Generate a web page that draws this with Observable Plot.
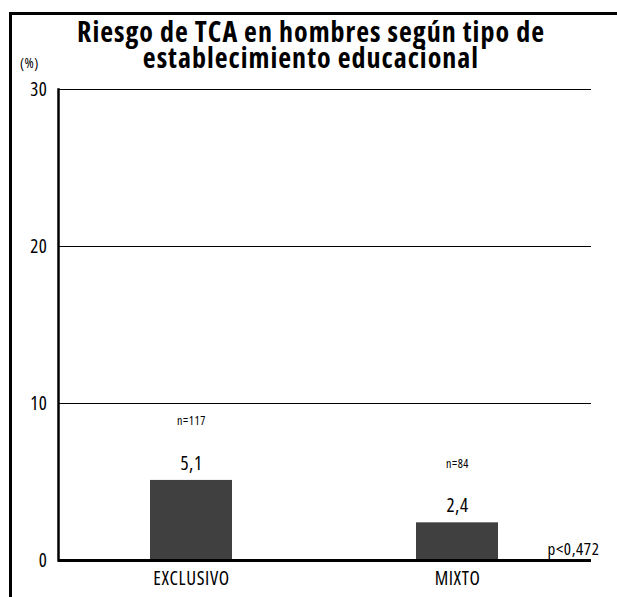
<!DOCTYPE html>
<html><head><meta charset="utf-8">
<script src="https://cdn.jsdelivr.net/npm/d3@7"></script>
<script src="https://cdn.jsdelivr.net/npm/@observablehq/plot@0.6"></script>
<style>
body{margin:0;background:#fff;}
#wrap{position:relative;width:617px;height:597px;overflow:hidden;font-family:"Open Sans",sans-serif;font-stretch:condensed;color:#000;}
#chart{position:absolute;left:0;top:70px;}
#chart svg, #chart svg text{font-stretch:condensed;}
#chart svg text{letter-spacing:0.6px;}
#frame{position:absolute;left:9px;top:12px;right:0;bottom:0;border-left:3px solid #000;border-top:3px solid #000;pointer-events:none;}
#title{position:absolute;left:12px;width:598px;top:18px;text-align:center;font-weight:bold;font-size:28px;line-height:26px;letter-spacing:1px;}
#unit{position:absolute;left:20px;top:56px;font-size:14px;line-height:14px;letter-spacing:0.5px;}
</style></head>
<body>
<div id="wrap">
  <div id="chart"></div>
  <div id="frame"></div>
  <div id="title">Riesgo de TCA en hombres según tipo de<br>establecimiento educacional</div>
  <div id="unit">(%)</div>
</div>
<script>
const categories = ["EXCLUSIVO", "MIXTO"];
const values = [5.1, 2.4];
const valueLabels = ["5,1", "2,4"];
const nLabels = ["n=117", "n=84"];
const yTicks = [0, 10, 20, 30];
const gridValues = [10, 20, 30];
const pValueLabel = "p<0,472";

const data = categories.map((c, i) => ({cat: c, val: values[i], vl: valueLabels[i], nl: nLabels[i]}));
const font = '"Open Sans", sans-serif';

const chart = Plot.plot({
  width: 617, height: 527,
  marginTop: 19, marginBottom: 37, marginLeft: 58, marginRight: 26,
  style: {fontFamily: font, fontSize: "18px", background: "transparent", color: "#000", overflow: "visible"},
  x: {domain: categories, paddingInner: 0.69, paddingOuter: 0.345, label: null},
  y: {domain: [0, 30], label: null},
  marks: [
    Plot.ruleY(gridValues, {stroke: "#000", strokeWidth: 1}),
    Plot.barY(data, {x: "cat", y: "val", fill: "#404040"}),
    Plot.ruleY([0], {stroke: "#000", strokeWidth: 3}),
    Plot.frame({anchor: "left", stroke: "#000", strokeWidth: 2.5}),
    Plot.axisY({ticks: yTicks, tickSize: 0, tickPadding: 11, fontSize: 19, label: null}),
    Plot.axisX({tickSize: 0, tickPadding: 11, fontSize: 19, label: null}),
    Plot.text(data, {x: "cat", y: "val", text: "vl", dy: -17, fontSize: 19}),
    Plot.text(data, {x: "cat", y: "val", text: "nl", dy: -59, fontSize: 12}),
    Plot.text([pValueLabel], {frameAnchor: "bottom-right", textAnchor: "end", lineAnchor: "bottom", dx: 8, dy: -6, fontSize: 17})
  ]
});
document.getElementById("chart").appendChild(chart);
</script>
</body></html>
